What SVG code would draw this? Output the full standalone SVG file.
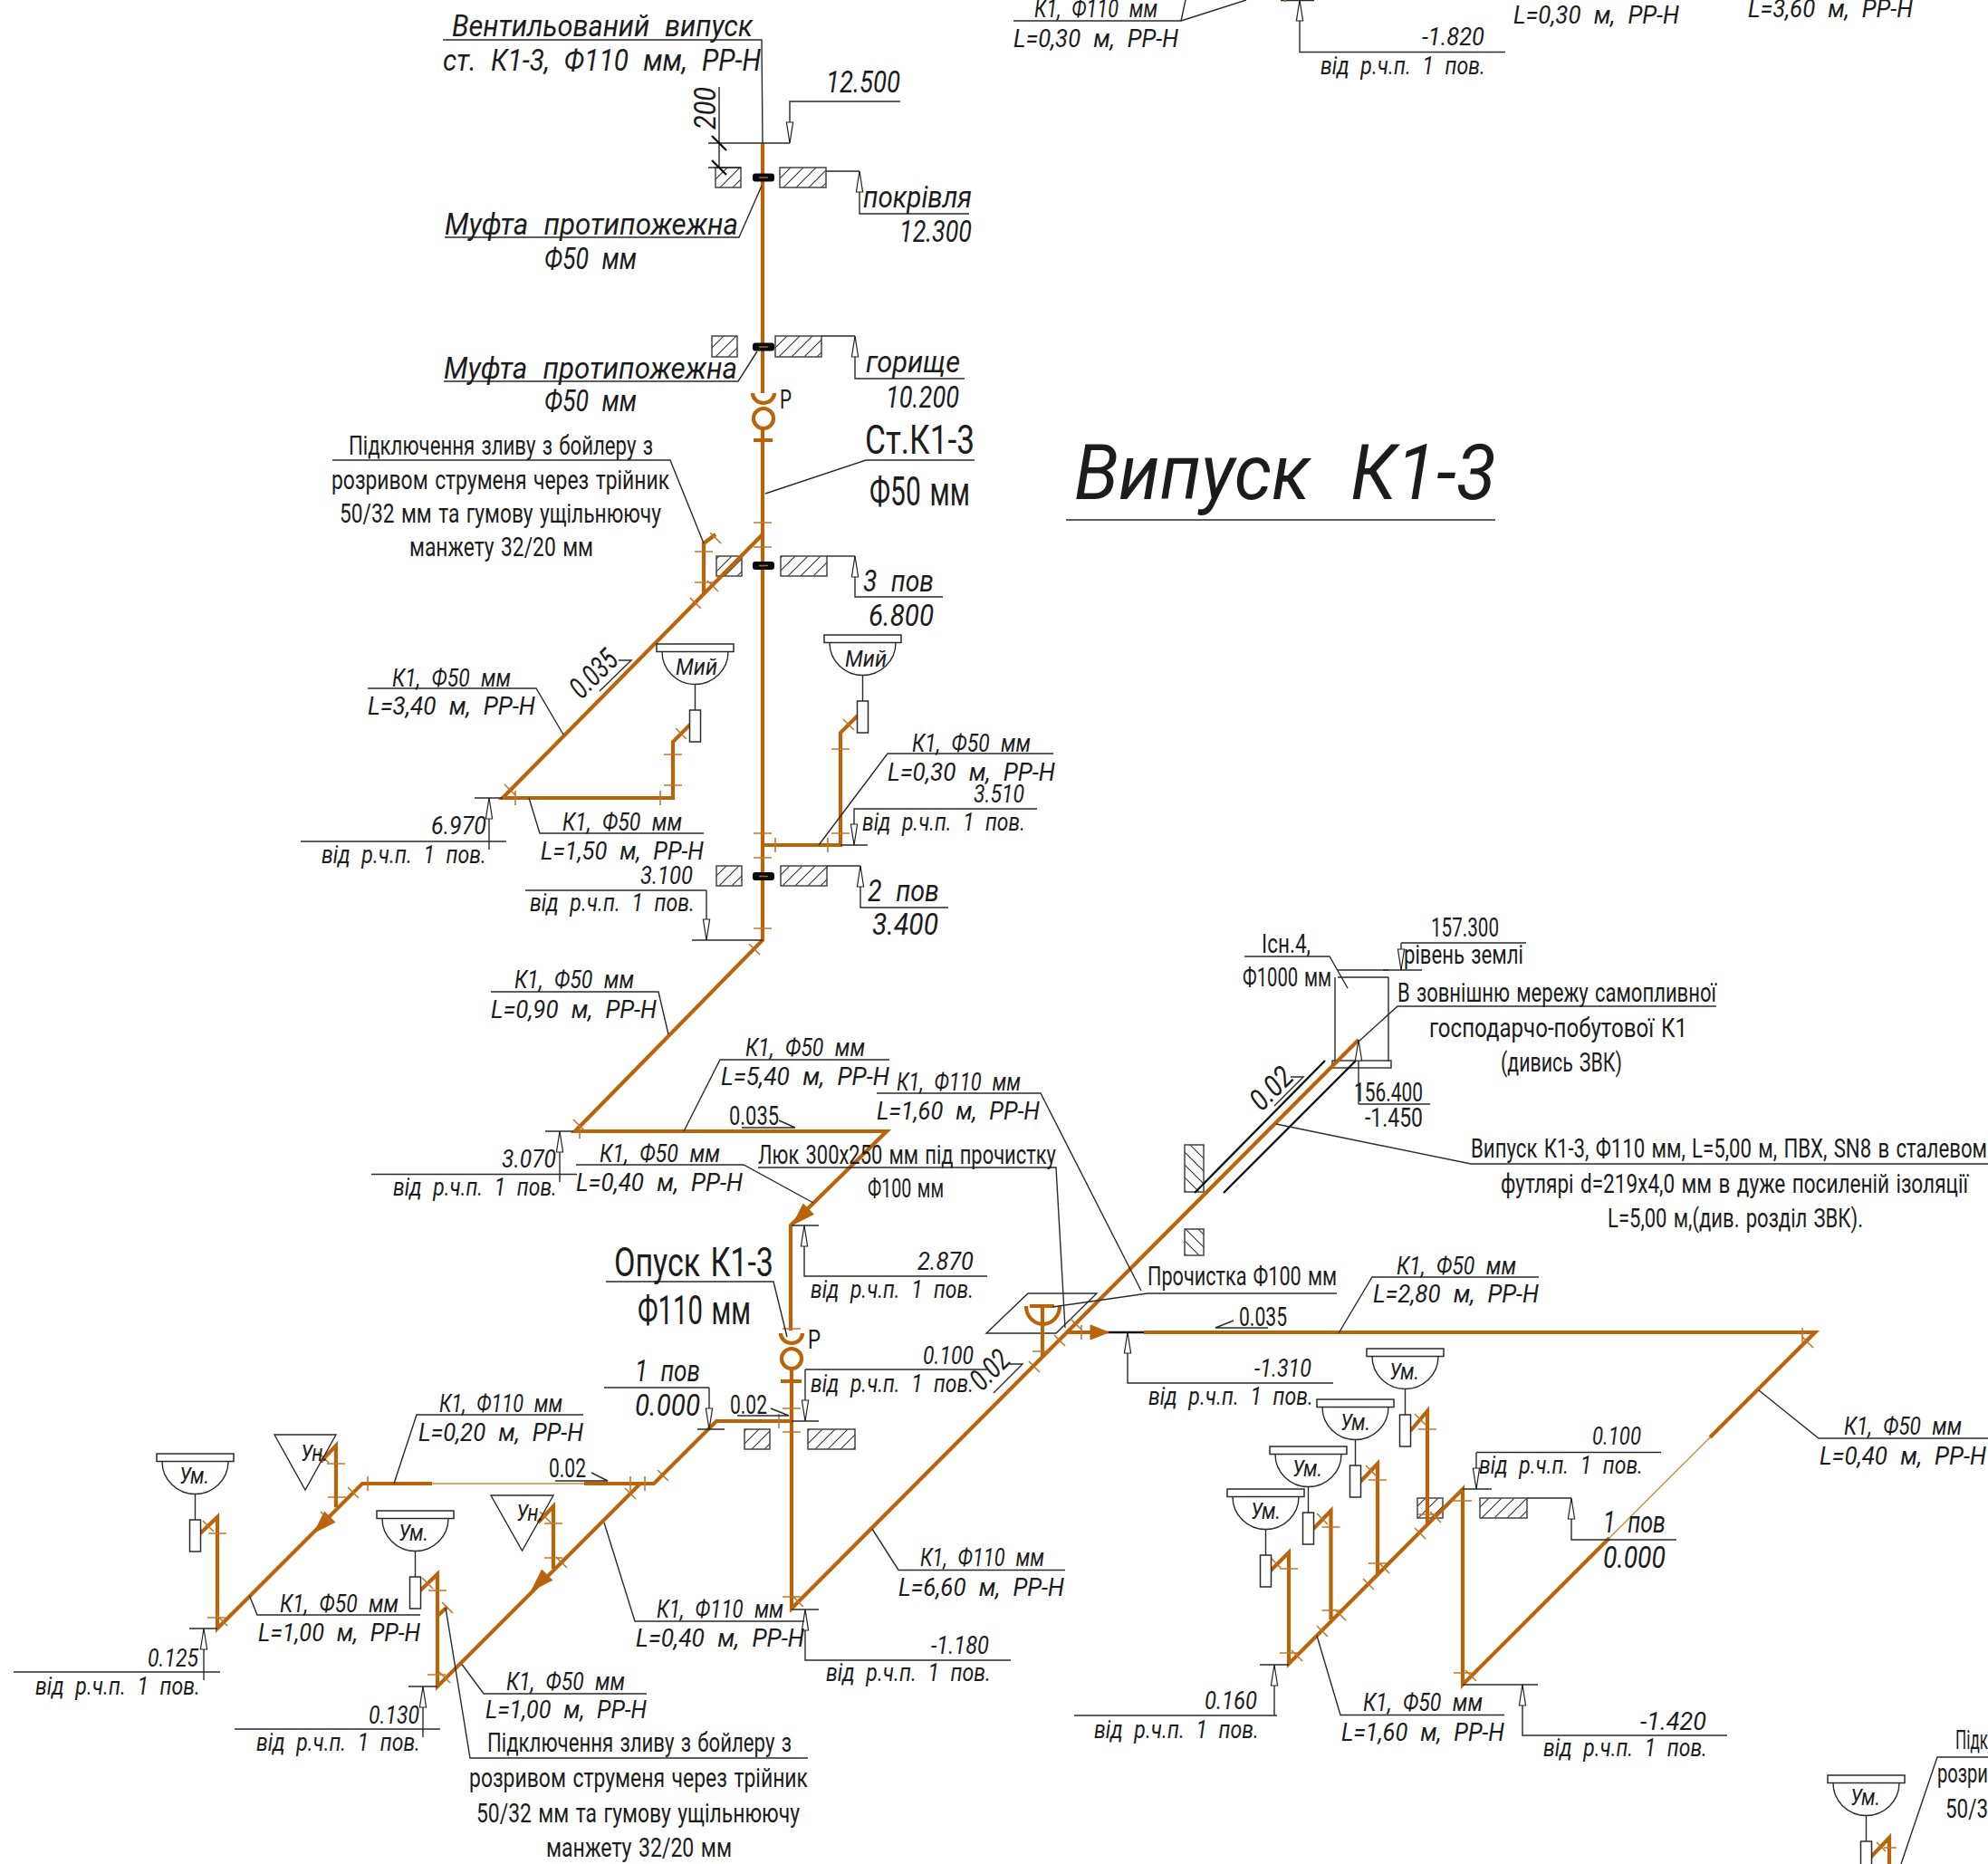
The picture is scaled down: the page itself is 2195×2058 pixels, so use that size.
<svg xmlns="http://www.w3.org/2000/svg" width="2195" height="2058" viewBox="0 0 2195 2058">
<style>
text{font-family:"Roboto","Liberation Sans",sans-serif;font-weight:400;fill:#1c1c1c;word-spacing:.08em}
.i{font-style:italic;word-spacing:.3em}
.f26{font-size:26px}.f28{font-size:28px}.f29{font-size:29px}.f33{font-size:33px}.f43{font-size:44px}.f85{font-size:85px}
.p{fill:none;stroke:#b9640a;stroke-width:4.2}
.pt{fill:none;stroke:#c98a4a;stroke-width:1.4}
.tk{fill:none;stroke:#c4742a;stroke-width:1.6}
.fa{fill:#b9640a;stroke:#b9640a;stroke-width:1}
.l{fill:none;stroke:#2a2a2a;stroke-width:1.4}
.b{fill:none;stroke:#111;stroke-width:2.4}
.w{fill:#fff;stroke:#2a2a2a;stroke-width:1.5}
.h1{fill:url(#h1);stroke:#444;stroke-width:1.5}
.h2{fill:url(#h2);stroke:#444;stroke-width:1.5}
.c{fill:#0a0a0a}
.ar{marker-start:url(#a)}
</style>
<defs>
<pattern id="h1" patternUnits="userSpaceOnUse" width="14" height="14"><path d="M-2 10L10 -2M5 17L17 5" stroke="#333" stroke-width="1.1" fill="none"/></pattern>
<pattern id="h2" patternUnits="userSpaceOnUse" width="14" height="14"><path d="M-2 4L10 16M5 -3L17 9" stroke="#333" stroke-width="1.1" fill="none"/></pattern>
<marker id="a" markerUnits="userSpaceOnUse" viewBox="-1 -6 26 12" refX="0" refY="0" markerWidth="26" markerHeight="12" orient="auto"><path d="M0 0L23 -3.6L23 3.6Z" fill="#fff" stroke="#222" stroke-width="1.2"/></marker>
<g id="sink">
<rect class="w" x="0" y="0" width="85" height="8.5"/>
<path class="l" d="M6 8.5A36.5 36 0 0 0 79 8.5M42.5 44.500V73"/>
<rect class="w" x="36.500" y="73" width="12" height="35"/>
</g>
</defs>
<rect width="2195" height="2058" fill="#fff"/>

<g id="walls">
<rect class="h1" x="790" y="185" width="28" height="22"/><rect class="h1" x="861" y="185" width="51" height="22"/>
<rect class="h1" x="786" y="371" width="28" height="23"/><rect class="h1" x="856" y="371" width="51" height="23"/>
<rect class="h1" x="791" y="614" width="28" height="22"/><rect class="h1" x="862" y="614" width="51" height="22"/>
<rect class="h1" x="791" y="956" width="28" height="22"/><rect class="h1" x="862" y="956" width="51" height="22"/>
<rect class="h1" x="822" y="1578" width="28" height="22"/><rect class="h1" x="892" y="1578" width="52" height="22"/>
<rect class="h1" x="1565" y="1654" width="28" height="22"/><rect class="h1" x="1634" y="1654" width="52" height="22"/>
<rect class="h2" x="1308" y="1264" width="21" height="52"/><rect class="h2" x="1308" y="1357" width="21" height="29"/>
</g>

<g id="manhole">
<path class="l" d="M1474 1079V1172M1533 1079V1172M1477 1071H1533M1477 1079H1533"/>
<rect class="l" x="1471" y="1171" width="65" height="8"/>
<path class="b" d="M1463 1171L1319 1317M1497 1171L1351 1317"/>
<path class="l" d="M1089 1472L1135 1428H1211L1166 1472Z"/>
</g>

<g id="connectors">
<g id="pipes">
<path class="p" d="M842 158V434M831 434A12 11 0 0 0 855 434M832 486H853M842 473V1038L635 1249H979L873 1353V1469"/>
<circle class="p" cx="843" cy="462" r="11"/>
<path class="p" d="M842 590L555 881H743V819L762 800M790 590L777 600V656M842 933H928V809L947 790"/>
<path class="p" d="M862 1472A12 11 0 0 0 886 1472M862 1525H885M874 1511V1776L1500 1148"/>
<circle class="p" cx="874" cy="1500" r="11"/>
<path class="p" d="M874 1569H791L722 1638H645M477 1638H400L240 1798V1675L220 1694M707 1638L483 1862V1738L463 1757M483 1784L494 1774M371 1664V1596L354 1614M611 1732V1663L594 1681"/>
<path class="pt" d="M645 1638H477M1888 1587L1777 1698"/>
<path class="p" d="M1133 1442A18.500 20 0 0 0 1170 1442M1137 1442H1164M1151 1442V1497"/>
<path class="b" d="M1179 1471H1263"/>
<path class="p" d="M1179 1471H1206M1263 1471H2004L1888 1587M1777 1698L1615 1860V1644L1423 1837V1714L1403 1734M1469.500 1788V1668L1450 1688M1521 1740V1616L1501 1637M1576 1683V1558L1557 1580M2065 2051L2086 2029V2058"/>
<path class="fa" transform="translate(875.500 1352) rotate(135)" d="M0 0L-24 -8L-24 8Z"/>
<path class="fa" transform="translate(347 1692) rotate(135)" d="M0 0L-24 -8L-24 8Z"/>
<path class="fa" transform="translate(587 1756) rotate(135)" d="M0 0L-24 -8L-24 8Z"/>
<path class="fa" transform="translate(1224 1471)" d="M0 0L-20 -8L-20 8Z"/>
<path class="tk" d="M832 577h20M832 604h20M832 920h20M832 947h20M832 1025h20M767 609h20M767 643h20M784 588l12 12M781 641l12 12M762 660l12 12M557 866l12 12M569 873v16M729 873v16M733 833h20M733 867h20M746 804l12 12M918 827h20M918 920h20M856 925v16M914 925v16M931 794l12 12M827 1042l12 12M633 1236l12 12M640 1241v16M406 1630v16M712 1630v16M696 1630v16M726 1623l12 12M384 1642l12 12M362 1653h20M361 1616h20M351 1603l12 12M354 1669l12 12M230 1693h20M224 1679l12 12M229 1786h20M239 1783l12 12M473 1756h20M466 1742l12 12M472 1849h20M485 1846l12 12M488 1769l12 12M601 1682h20M596 1669l12 12M601 1720h20M614 1719l12 12M690 1643l12 12M864 1467h20M864 1555h20M864 1581h20M864 1763h20M875 1762l12 12M860 1561v16M1140 1492h20M1136 1503l12 12M1164 1474l12 12M1182 1456l12 12M1194 1463v16M1990 1466v16M1990 1476l12 12M1413 1825h20M1426 1822l12 12M1402 1719l12 12M1413 1732h20M1459.500 1778h20M1474 1777l12 12M1454 1795l12 12M1454 1671l12 12M1459.500 1686h20M1511 1726h20M1522 1725l12 12M1505 1743l12 12M1508 1618l12 12M1511 1634h20M1562 1687l12 12M1562 1561l12 12M1566 1578h20M1566 1672h20M1579 1669l12 12M1605 1657h20M1605 1847h20M1618 1844l12 12M2080 2040h14M2072 2034l10 10"/>
</g>
<g id="couplings">
<rect class="c" x="831" y="191.500" width="24" height="9" rx="3"/><rect class="c" x="831" y="378.500" width="24" height="9" rx="3"/><rect class="c" x="831" y="620" width="24" height="9" rx="3"/><rect class="c" x="831" y="963" width="24" height="9" rx="3"/>
<path d="M838 196H848M838 383H848M838 624.500H848M838 967.500H848" stroke="#a86a30" stroke-width="1.500"/>
</g>
<g id="leaders">
<path class="l" d="M489 44H841L842 158M782 158H872M782 185H818M794 96V185"/>
<path class="b" d="M786 150L802 166M786 177L802 193"/>
<path class="l ar" d="M872 158V112H994"/>
<path class="l" d="M841 205L816 262H491M912 189H949"/>
<path class="l ar" d="M949 189V236H1070"/>
<path class="l" d="M836 388L815 421H490M907 371H944"/>
<path class="l ar" d="M944 371V418H1065"/>
<path class="l" d="M845 545L956 508H1076M367 508H740L777 600"/>
<path class="l" d="M913 614H944"/><path class="l ar" d="M944 614V659H1041"/>
<path class="l" d="M406 760H592L622 811M662 763L697 729H683M584 881L596 920H777M524 881H555M332 929H559"/>
<path class="l ar" d="M540 881V938"/>
<path class="l" d="M1163 832H980L904 933M928 933H958"/>
<path class="l ar" d="M943 933V893H1145"/>
<path class="l" d="M913 956H950"/><path class="l ar" d="M950 956V1002H1047"/>
<path class="l" d="M580 983H780M764 1038H842"/><path class="l ar" d="M780 1038V983"/>
<path class="l" d="M542 1095H727L738 1142M982 1170H795L755 1249M819 1245H878L860 1237M602 1249H633M410 1296.500H637"/>
<path class="l ar" d="M618 1249V1305"/>
<path class="l" d="M636 1286H821L898 1328M837 1289H1166L1176 1466M968 1207H1149L1260 1425M874 1353H904"/>
<path class="l ar" d="M888 1353V1409H1090"/>
<path class="l" d="M669 1415H854L869 1476M889 1512H1090M874 1569H904M814 1563H871L851 1555"/>
<path class="l ar" d="M889 1569V1512"/>
<path class="l" d="M1097 1538L1129 1506H1115M874 1777H904M1176 1733.500H992L963 1688"/>
<path class="l ar" d="M889 1777V1833H1116"/>
<path class="l" d="M1476 1428H1267L1162 1443"/>
<path class="l ar" d="M1245 1471V1527H1472"/>
<path class="l" d="M1400 1466H1342L1362 1458M1699 1410H1515L1478 1472"/>
<path class="l" d="M667 1532H783M770 1578H800"/>
<path class="l ar" d="M783 1578V1532"/>
<path class="l" d="M644 1562H460L435 1638M613 1635H671L653 1626M275.500 1762L284 1783H464M209 1798H240M15 1846H243"/>
<path class="l ar" d="M225 1798V1855"/>
<path class="l" d="M451 1862H483M259 1909H486M510 1837.500L534 1870H714M492 1775L519 1941H892"/>
<path class="l ar" d="M467 1862V1918"/>
<path class="l" d="M667 1681L701 1790H888"/>
<path class="l" d="M1374 1056H1468L1488 1091M1547 1041H1685M1527 1071H1570M1895 1111H1543L1500 1150M1500 1219H1579"/>
<path class="l ar" d="M1547 1071V1041"/>
<path class="l ar" d="M1500 1148V1219"/>
<path class="l" d="M1407 1221L1439 1189H1425M1409 1241L1624 1285H2195"/>
<path class="l" d="M2195 1588H2008L1942 1535"/>
<path class="l" d="M1686 1654H1735"/><path class="l ar" d="M1735 1654V1700H1851"/>
<path class="l" d="M1630 1603.500H1834M1615 1644H1647"/><path class="l ar" d="M1630 1644V1603.500"/>
<path class="l" d="M1391 1838H1423M1186 1894H1410"/><path class="l ar" d="M1407 1838V1894"/>
<path class="l" d="M1661 1893.500H1480L1454 1806M1615 1860H1698"/>
<path class="l ar" d="M1681 1860V1916H1907"/>
<path class="l" d="M2195 1940H2139L2099 2058"/>
<path class="l" d="M1119 23H1304L1309 0M1304 23L1376 0M1414 0.500H1451M1177 574H1651"/>
<path class="l ar" d="M1435 0V57.500H1662"/>
<path d="M1419 0v2" stroke="#b9640a" stroke-width="2"/>
</g>
</g>

<g id="sink-1"><use href="#sink" x="725" y="711"/><text class="i f26" x="746" y="745" textLength="46" lengthAdjust="spacingAndGlyphs">Мий</text></g>
<g id="sink-2"><use href="#sink" x="910" y="701"/><text class="i f26" x="933" y="736" textLength="46" lengthAdjust="spacingAndGlyphs">Мий</text></g>
<g id="sink-3"><use href="#sink" x="173" y="1605"/><text class="i f26" x="198" y="1638" textLength="33" lengthAdjust="spacingAndGlyphs">Ум.</text></g>
<g id="sink-4"><use href="#sink" x="416" y="1668"/><text class="i f26" x="440" y="1701" textLength="33" lengthAdjust="spacingAndGlyphs">Ум.</text></g>
<g id="sink-5"><use href="#sink" x="1509" y="1489"/><text class="i f26" x="1534" y="1523" textLength="33" lengthAdjust="spacingAndGlyphs">Ум.</text></g>
<g id="sink-6"><use href="#sink" x="1454" y="1545"/><text class="i f26" x="1480" y="1579" textLength="33" lengthAdjust="spacingAndGlyphs">Ум.</text></g>
<g id="sink-7"><use href="#sink" x="1402" y="1597"/><text class="i f26" x="1427" y="1630" textLength="33" lengthAdjust="spacingAndGlyphs">Ум.</text></g>
<g id="sink-8"><use href="#sink" x="1355" y="1644"/><text class="i f26" x="1381" y="1677" textLength="33" lengthAdjust="spacingAndGlyphs">Ум.</text></g>
<g id="sink-9"><use href="#sink" x="2018" y="1960"/><text class="i f26" x="2043" y="1993" textLength="33" lengthAdjust="spacingAndGlyphs">Ум.</text></g>
<g id="urinal-1"><path class="l" d="M303 1584H371L337 1645Z"/><text class="i f26" x="332" y="1613" textLength="30" lengthAdjust="spacingAndGlyphs">Ун.</text></g>
<g id="urinal-2"><path class="l" d="M542 1651H611L576.500 1712Z"/><text class="i f26" x="570" y="1679" textLength="30" lengthAdjust="spacingAndGlyphs">Ун.</text></g>

<g id="labels">
<text class="i f33" x="499" y="40" textLength="332" lengthAdjust="spacingAndGlyphs">Вентильований випуск</text>
<text class="i f33" x="489" y="78" textLength="351" lengthAdjust="spacingAndGlyphs">ст. К1-3, Ф110 мм, РР-Н</text>
<text class="i f33" x="912" y="102" textLength="82" lengthAdjust="spacingAndGlyphs">12.500</text>
<text class="i f33" transform="rotate(-90 790 143)" x="790" y="143" textLength="47" lengthAdjust="spacingAndGlyphs">200</text>
<text class="i f33" x="491" y="259" textLength="324" lengthAdjust="spacingAndGlyphs">Муфта протипожежна</text>
<text class="i f33" x="601" y="297" textLength="102" lengthAdjust="spacingAndGlyphs">Ф50 мм</text>
<text class="i f33" x="953" y="229" textLength="120" lengthAdjust="spacingAndGlyphs">покрівля</text>
<text class="i f33" x="993" y="267" textLength="80" lengthAdjust="spacingAndGlyphs">12.300</text>
<text class="i f33" x="490" y="418" textLength="324" lengthAdjust="spacingAndGlyphs">Муфта протипожежна</text>
<text class="i f33" x="601" y="454" textLength="102" lengthAdjust="spacingAndGlyphs">Ф50 мм</text>
<text class="i f33" x="956" y="411" textLength="104" lengthAdjust="spacingAndGlyphs">горище</text>
<text class="i f33" x="978" y="450" textLength="81" lengthAdjust="spacingAndGlyphs">10.200</text>
<text class="f29" x="861" y="451" textLength="13" lengthAdjust="spacingAndGlyphs">Р</text>
<text class="f43" x="955" y="501" textLength="121" lengthAdjust="spacingAndGlyphs">Ст.К1-3</text>
<text class="f43" x="960" y="558" textLength="111" lengthAdjust="spacingAndGlyphs">Ф50 мм</text>
<text class="f29" x="385" y="502" textLength="336" lengthAdjust="spacingAndGlyphs">Підключення зливу з бойлеру з</text>
<text class="f29" x="366" y="540" textLength="373" lengthAdjust="spacingAndGlyphs">розривом струменя через трійник</text>
<text class="f29" x="375" y="577" textLength="355" lengthAdjust="spacingAndGlyphs">50/32 мм та гумову ущільнюючу</text>
<text class="f29" x="452" y="614" textLength="203" lengthAdjust="spacingAndGlyphs">манжету 32/20 мм</text>
<text class="i f33" x="953" y="653" textLength="78" lengthAdjust="spacingAndGlyphs">3 пов</text>
<text class="i f33" x="959" y="691" textLength="72" lengthAdjust="spacingAndGlyphs">6.800</text>
<text class="i f85" x="1186" y="551" textLength="466" lengthAdjust="spacingAndGlyphs">Випуск К1-3</text>
<text class="i f28" x="433" y="758" textLength="131" lengthAdjust="spacingAndGlyphs">К1, Ф50 мм</text>
<text class="i f28" x="406" y="789" textLength="185" lengthAdjust="spacingAndGlyphs">L=3,40 м, РР-Н</text>
<text class="i f33" transform="rotate(-45 642 773)" x="642" y="773" textLength="60" lengthAdjust="spacingAndGlyphs">0.035</text>
<text class="i f28" x="476" y="921" textLength="61" lengthAdjust="spacingAndGlyphs">6.970</text>
<text class="i f28" x="355" y="953" textLength="182" lengthAdjust="spacingAndGlyphs">від р.ч.п. 1 пов.</text>
<text class="i f28" x="621" y="917" textLength="132" lengthAdjust="spacingAndGlyphs">К1, Ф50 мм</text>
<text class="i f28" x="597" y="949" textLength="180" lengthAdjust="spacingAndGlyphs">L=1,50 м, РР-Н</text>
<text class="i f28" x="1007" y="830" textLength="131" lengthAdjust="spacingAndGlyphs">К1, Ф50 мм</text>
<text class="i f28" x="980" y="862" textLength="185" lengthAdjust="spacingAndGlyphs">L=0,30 м, РР-Н</text>
<text class="i f28" x="1075" y="886" textLength="56" lengthAdjust="spacingAndGlyphs">3.510</text>
<text class="i f28" x="952" y="917" textLength="180" lengthAdjust="spacingAndGlyphs">від р.ч.п. 1 пов.</text>
<text class="i f33" x="958" y="995" textLength="79" lengthAdjust="spacingAndGlyphs">2 пов</text>
<text class="i f33" x="963" y="1032" textLength="73" lengthAdjust="spacingAndGlyphs">3.400</text>
<text class="i f28" x="707" y="976" textLength="58" lengthAdjust="spacingAndGlyphs">3.100</text>
<text class="i f28" x="585" y="1006" textLength="182" lengthAdjust="spacingAndGlyphs">від р.ч.п. 1 пов.</text>
<text class="i f28" x="568" y="1091" textLength="132" lengthAdjust="spacingAndGlyphs">К1, Ф50 мм</text>
<text class="i f28" x="542" y="1124" textLength="183" lengthAdjust="spacingAndGlyphs">L=0,90 м, РР-Н</text>
<text class="i f28" x="823" y="1166" textLength="132" lengthAdjust="spacingAndGlyphs">К1, Ф50 мм</text>
<text class="i f28" x="796" y="1198" textLength="186" lengthAdjust="spacingAndGlyphs">L=5,40 м, РР-Н</text>
<text class="f29" x="805" y="1242" textLength="55" lengthAdjust="spacingAndGlyphs">0.035</text>
<text class="i f28" x="990" y="1204" textLength="137" lengthAdjust="spacingAndGlyphs">К1, Ф110 мм</text>
<text class="i f28" x="968" y="1236" textLength="180" lengthAdjust="spacingAndGlyphs">L=1,60 м, РР-Н</text>
<text class="i f28" x="554" y="1289" textLength="60" lengthAdjust="spacingAndGlyphs">3.070</text>
<text class="i f28" x="434" y="1320" textLength="181" lengthAdjust="spacingAndGlyphs">від р.ч.п. 1 пов.</text>
<text class="i f28" x="662" y="1283" textLength="133" lengthAdjust="spacingAndGlyphs">К1, Ф50 мм</text>
<text class="i f28" x="636" y="1315" textLength="184" lengthAdjust="spacingAndGlyphs">L=0,40 м, РР-Н</text>
<text class="f29" x="837" y="1285" textLength="329" lengthAdjust="spacingAndGlyphs">Люк 300х250 мм під прочистку</text>
<text class="f29" x="958" y="1322" textLength="84" lengthAdjust="spacingAndGlyphs">Ф100 мм</text>
<text class="i f28" x="1013" y="1402" textLength="62" lengthAdjust="spacingAndGlyphs">2.870</text>
<text class="i f28" x="895" y="1433" textLength="180" lengthAdjust="spacingAndGlyphs">від р.ч.п. 1 пов.</text>
<text class="f43" x="678" y="1409" textLength="176" lengthAdjust="spacingAndGlyphs">Опуск К1-3</text>
<text class="f43" x="704" y="1462" textLength="125" lengthAdjust="spacingAndGlyphs">Ф110 мм</text>
<text class="f29" x="892" y="1489" textLength="14" lengthAdjust="spacingAndGlyphs">Р</text>
<text class="i f28" x="1019" y="1506" textLength="56" lengthAdjust="spacingAndGlyphs">0.100</text>
<text class="i f28" x="895" y="1537" textLength="180" lengthAdjust="spacingAndGlyphs">від р.ч.п. 1 пов.</text>
<text class="f29" x="806" y="1561" textLength="41" lengthAdjust="spacingAndGlyphs">0.02</text>
<text class="i f33" transform="rotate(-45 1084 1537)" x="1084" y="1537" textLength="47" lengthAdjust="spacingAndGlyphs">0.02</text>
<text class="i f33" x="701" y="1525" textLength="72" lengthAdjust="spacingAndGlyphs">1 пов</text>
<text class="i f33" x="701" y="1563" textLength="72" lengthAdjust="spacingAndGlyphs">0.000</text>
<text class="i f28" x="485" y="1559" textLength="136" lengthAdjust="spacingAndGlyphs">К1, Ф110 мм</text>
<text class="i f28" x="462" y="1591" textLength="182" lengthAdjust="spacingAndGlyphs">L=0,20 м, РР-Н</text>
<text class="f29" x="606" y="1631" textLength="41" lengthAdjust="spacingAndGlyphs">0.02</text>
<text class="i f28" x="309" y="1780" textLength="131" lengthAdjust="spacingAndGlyphs">К1, Ф50 мм</text>
<text class="i f28" x="285" y="1812" textLength="179" lengthAdjust="spacingAndGlyphs">L=1,00 м, РР-Н</text>
<text class="i f28" x="163" y="1840" textLength="56" lengthAdjust="spacingAndGlyphs">0.125</text>
<text class="i f28" x="39" y="1871" textLength="182" lengthAdjust="spacingAndGlyphs">від р.ч.п. 1 пов.</text>
<text class="i f28" x="407" y="1903" textLength="56" lengthAdjust="spacingAndGlyphs">0.130</text>
<text class="i f28" x="283" y="1933" textLength="181" lengthAdjust="spacingAndGlyphs">від р.ч.п. 1 пов.</text>
<text class="i f28" x="559" y="1866" textLength="131" lengthAdjust="spacingAndGlyphs">К1, Ф50 мм</text>
<text class="i f28" x="536" y="1897" textLength="178" lengthAdjust="spacingAndGlyphs">L=1,00 м, РР-Н</text>
<text class="f29" x="538" y="1934" textLength="336" lengthAdjust="spacingAndGlyphs">Підключення зливу з бойлеру з</text>
<text class="f29" x="518" y="1973" textLength="374" lengthAdjust="spacingAndGlyphs">розривом струменя через трійник</text>
<text class="f29" x="526" y="2012" textLength="357" lengthAdjust="spacingAndGlyphs">50/32 мм та гумову ущільнюючу</text>
<text class="f29" x="603" y="2050" textLength="205" lengthAdjust="spacingAndGlyphs">манжету 32/20 мм</text>
<text class="i f28" x="725" y="1786" textLength="140" lengthAdjust="spacingAndGlyphs">К1, Ф110 мм</text>
<text class="i f28" x="702" y="1818" textLength="186" lengthAdjust="spacingAndGlyphs">L=0,40 м, РР-Н</text>
<text class="i f28" x="1028" y="1826" textLength="64" lengthAdjust="spacingAndGlyphs">-1.180</text>
<text class="i f28" x="912" y="1856" textLength="182" lengthAdjust="spacingAndGlyphs">від р.ч.п. 1 пов.</text>
<text class="i f28" x="1016" y="1729" textLength="137" lengthAdjust="spacingAndGlyphs">К1, Ф110 мм</text>
<text class="i f28" x="992" y="1762" textLength="183" lengthAdjust="spacingAndGlyphs">L=6,60 м, РР-Н</text>
<text class="f29" x="1267" y="1419" textLength="209" lengthAdjust="spacingAndGlyphs">Прочистка Ф100 мм</text>
<text class="f29" x="1368" y="1464" textLength="53" lengthAdjust="spacingAndGlyphs">0.035</text>
<text class="i f28" x="1385" y="1520" textLength="63" lengthAdjust="spacingAndGlyphs">-1.310</text>
<text class="i f28" x="1268" y="1551" textLength="182" lengthAdjust="spacingAndGlyphs">від р.ч.п. 1 пов.</text>
<text class="i f28" x="1542" y="1407" textLength="132" lengthAdjust="spacingAndGlyphs">К1, Ф50 мм</text>
<text class="i f28" x="1516" y="1438" textLength="183" lengthAdjust="spacingAndGlyphs">L=2,80 м, РР-Н</text>
<text class="f29" x="1393" y="1052" textLength="54" lengthAdjust="spacingAndGlyphs">Існ.4,</text>
<text class="f29" x="1372" y="1089" textLength="98" lengthAdjust="spacingAndGlyphs">Ф1000 мм</text>
<text class="f29" x="1580" y="1034" textLength="75" lengthAdjust="spacingAndGlyphs">157.300</text>
<text class="f29" x="1550" y="1064" textLength="132" lengthAdjust="spacingAndGlyphs">рівень землі</text>
<text class="f29" x="1543" y="1106" textLength="352" lengthAdjust="spacingAndGlyphs">В зовнішню мережу самопливної</text>
<text class="f29" x="1578" y="1145" textLength="285" lengthAdjust="spacingAndGlyphs">господарчо-побутової К1</text>
<text class="f29" x="1657" y="1183" textLength="134" lengthAdjust="spacingAndGlyphs">(дивись ЗВК)</text>
<text class="f29" x="1495" y="1216" textLength="76" lengthAdjust="spacingAndGlyphs">156.400</text>
<text class="f29" x="1507" y="1244" textLength="64" lengthAdjust="spacingAndGlyphs">-1.450</text>
<text class="i f33" transform="rotate(-45 1393 1228)" x="1393" y="1228" textLength="52" lengthAdjust="spacingAndGlyphs">0.02</text>
<text class="f29" x="1624" y="1278" textLength="570" lengthAdjust="spacingAndGlyphs">Випуск К1-3, Ф110 мм, L=5,00 м, ПВХ, SN8 в сталевом</text>
<text class="f29" x="1657" y="1317" textLength="516" lengthAdjust="spacingAndGlyphs">футлярі d=219х4,0 мм в дуже посиленій ізоляції</text>
<text class="f29" x="1775" y="1355" textLength="282" lengthAdjust="spacingAndGlyphs">L=5,00 м,(див. розділ ЗВК).</text>
<text class="i f28" x="2036" y="1584" textLength="130" lengthAdjust="spacingAndGlyphs">К1, Ф50 мм</text>
<text class="i f28" x="2009" y="1617" textLength="184" lengthAdjust="spacingAndGlyphs">L=0,40 м, РР-Н</text>
<text class="i f28" x="1758" y="1595" textLength="54" lengthAdjust="spacingAndGlyphs">0.100</text>
<text class="i f28" x="1633" y="1627" textLength="181" lengthAdjust="spacingAndGlyphs">від р.ч.п. 1 пов.</text>
<text class="i f33" x="1770" y="1692" textLength="69" lengthAdjust="spacingAndGlyphs">1 пов</text>
<text class="i f33" x="1770" y="1731" textLength="69" lengthAdjust="spacingAndGlyphs">0.000</text>
<text class="i f28" x="1330" y="1887" textLength="58" lengthAdjust="spacingAndGlyphs">0.160</text>
<text class="i f28" x="1208" y="1919" textLength="182" lengthAdjust="spacingAndGlyphs">від р.ч.п. 1 пов.</text>
<text class="i f28" x="1505" y="1889" textLength="132" lengthAdjust="spacingAndGlyphs">К1, Ф50 мм</text>
<text class="i f28" x="1481" y="1922" textLength="180" lengthAdjust="spacingAndGlyphs">L=1,60 м, РР-Н</text>
<text class="i f28" x="1811" y="1910" textLength="73" lengthAdjust="spacingAndGlyphs">-1.420</text>
<text class="i f28" x="1704" y="1939" textLength="181" lengthAdjust="spacingAndGlyphs">від р.ч.п. 1 пов.</text>
<text class="f29" x="2159" y="1931" textLength="36" lengthAdjust="spacingAndGlyphs">Підк</text>
<text class="f29" x="2139" y="1968" textLength="56" lengthAdjust="spacingAndGlyphs">розри</text>
<text class="f29" x="2148" y="2007" textLength="47" lengthAdjust="spacingAndGlyphs">50/3</text>
<text class="i f28" x="1142" y="19" textLength="136" lengthAdjust="spacingAndGlyphs">К1, Ф110 мм</text>
<text class="i f28" x="1119" y="52" textLength="182" lengthAdjust="spacingAndGlyphs">L=0,30 м, РР-Н</text>
<text class="i f28" x="1570" y="50" textLength="69" lengthAdjust="spacingAndGlyphs">-1.820</text>
<text class="i f28" x="1458" y="82" textLength="182" lengthAdjust="spacingAndGlyphs">від р.ч.п. 1 пов.</text>
<text class="i f28" x="1671" y="26" textLength="183" lengthAdjust="spacingAndGlyphs">L=0,30 м, РР-Н</text>
<text class="i f28" x="1930" y="19" textLength="182" lengthAdjust="spacingAndGlyphs">L=3,60 м, РР-Н</text>
</g>
</svg>
